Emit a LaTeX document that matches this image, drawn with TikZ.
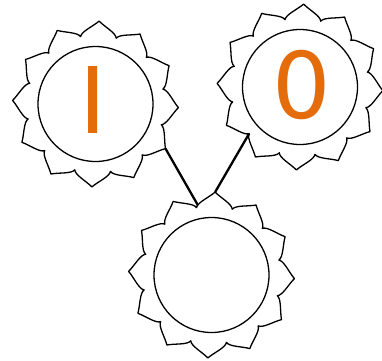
\documentclass[tikz,border=0pt]{standalone}
\usepackage{fontspec}
\newfontfamily\digitfont{DejaVu Sans}
\definecolor{bitorange}{HTML}{E46C0A}
% ring of pointed petals round a sun
\newcommand{\petalring}[1]{%
  \begin{scope}[shift={(#1)}]
    \draw[petal] (12.5:69) \foreach \a in {0,30,...,330} {
      .. controls (\a+14:74) and (\a+23:77.5) .. (\a+27.5:83)
      .. controls (\a+32:77.5) and (\a+41:74) .. (\a+42.5:69)} -- cycle;
  \end{scope}}

\begin{document}
\begin{tikzpicture}[
    x=1pt, y=1pt,
    disc/.style={draw, circle, line width=1.3pt, minimum size=115pt, inner sep=0pt},
    petal/.style={line width=1.3pt, line join=round},
    bit/.style={text=bitorange, font=\digitfont\fontsize{92}{92}\selectfont, inner sep=0pt},
    link/.style={line width=2.3pt}
  ]
  \useasboundingbox (0,0) rectangle (382,-360);
  % suns
  \node[disc] (lsun) at (95.5,-104) {};
  \node[disc] (rsun) at (300,-87) {};
  \node[disc] (bsun) at (211.5,-275) {};
  \petalring{lsun}
  \petalring{rsun}
  \petalring{bsun}

  % digits
  \node[bit] (lbit) at (92.7,-100) {I};
  \node[bit] (rbit) at (301.7,-85) {0};

  % links
  \path (lsun) ++(-32.5:83) coordinate (ltip);
  \path (rsun) ++(-137.5:69) coordinate (rdip);
  \path (bsun) ++(101:71) coordinate (bdip);
  \path (bsun) ++(87.5:83) coordinate (btip);
  \draw[link] (ltip) -- (bdip);
  \draw[link] (rdip) -- (btip);
\end{tikzpicture}
\end{document}
